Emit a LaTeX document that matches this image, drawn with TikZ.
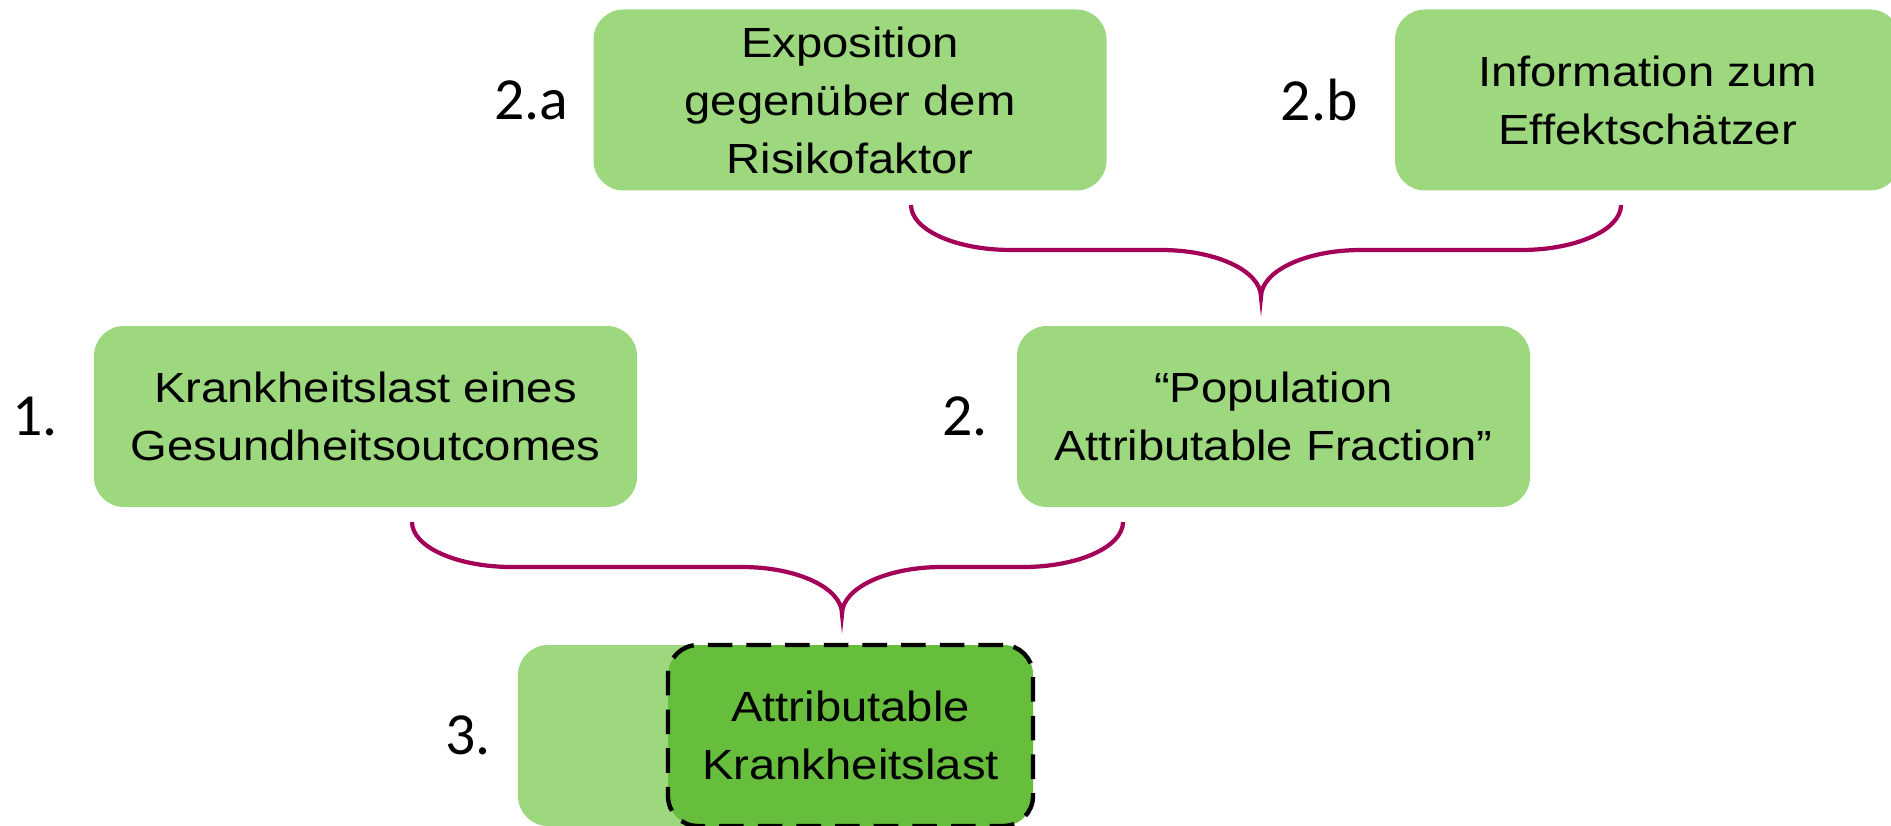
\documentclass[tikz,border=0pt]{standalone}
\usepackage{fontspec}
\setmainfont[FakeStretch=1.12]{Liberation Sans}
\newfontfamily\numfont{Carlito}
\usetikzlibrary{positioning}

\definecolor{lightgrn}{RGB}{157,216,127}
\definecolor{darkgrn}{RGB}{103,190,60}
\definecolor{bracecol}{RGB}{163,0,88}

\tikzset{
  box/.style={fill=lightgrn, rounded corners=0.3cm, minimum height=1.81cm, align=center,
    font=\fontsize{12}{16.5}\selectfont, inner sep=0pt},
  num/.style={font=\numfont\fontsize{17}{17}\selectfont, inner sep=0pt},
  brace/.style={draw=bracecol, line width=1.2pt},
}

\begin{document}
\begin{tikzpicture}
\useasboundingbox (0,0) rectangle (18.91,8.25);
\clip (0,0) rectangle (18.91,8.25);

\node[box, minimum width=5.13cm] (expo) at (8.50,7.25) {Exposition\\gegenüber dem\\Risikofaktor}; % 2.a
\node[box, minimum width=5.05cm] (effekt) at (16.475,7.25) {Information zum\\Effektschätzer}; % 2.b
\node[box, minimum width=5.43cm] (last) at (3.655,4.085) {Krankheitslast eines\\Gesundheitsoutcomes}; % 1.
\node[box, minimum width=5.13cm] (paf) at (12.735,4.085) {“Population\\Attributable Fraction”}; % 2.
\node[box, minimum width=5.15cm] (base) at (7.755,0.895) {}; % 3. light part
\node[box, fill=darkgrn, draw=black, dash pattern=on 7pt off 4pt, line width=1.25pt,
  minimum width=3.65cm] (attr) at (8.505,0.895) {Attributable\\Krankheitslast}; % 3. dashed

\node[num, left=0.24cm of expo] (n2a) {2.a};
\node[num, left=0.36cm of effekt] (n2b) {2.b};
\node[num, left=0.35cm of last] (n1) {1.};
\node[num, left=0.28cm of paf] (n2) {2.};
\node[num, left=0.26cm of base] (n3) {3.};

\coordinate (btop) at (9.11,6.20); % top brace, left end
\coordinate (bbot) at (4.12,3.03); % lower brace, left end

\draw[brace] (btop) arc[start angle=180,end angle=270,x radius=1,y radius=0.45] -- ++(1.5,0)
  arc[start angle=90,end angle=0,x radius=1,y radius=0.47]
  arc[start angle=180,end angle=90,x radius=1,y radius=0.47] -- ++(1.6,0)
  arc[start angle=270,end angle=360,x radius=1,y radius=0.45];

\draw[brace] (bbot) arc[start angle=180,end angle=270,x radius=1,y radius=0.45] -- ++(2.3,0)
  arc[start angle=90,end angle=0,x radius=1,y radius=0.47]
  arc[start angle=180,end angle=90,x radius=1,y radius=0.47] -- ++(0.81,0)
  arc[start angle=270,end angle=360,x radius=1,y radius=0.45];

\end{tikzpicture}
\end{document}
